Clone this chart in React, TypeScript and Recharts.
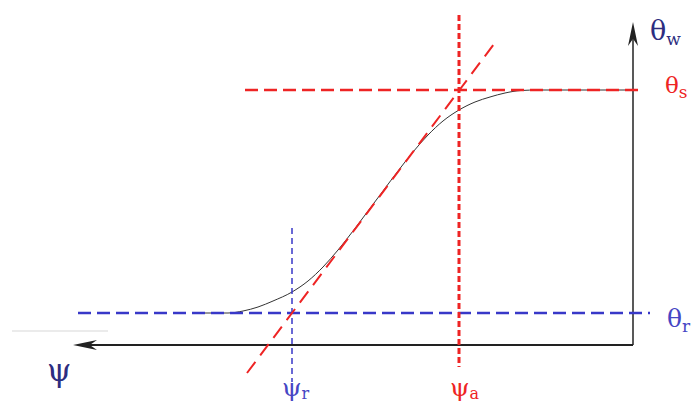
import React from 'react';
import {
  ComposedChart,
  Line,
  XAxis,
  YAxis,
  ReferenceLine,
  ReferenceDot,
} from 'recharts';

// retention curve, psi grows to the left, theta upward (arbitrary units)
const curvePsi = [44.0, 40.5, 39.0, 37.5, 36.0, 34.1, 32.5, 31.0, 29.5, 28.0, 26.5, 25.0, 23.5, 22.0, 20.5, 19.0, 17.4, 15.8, 14.3, 12.8, 11.2, 9.5, 0];
const curveTheta = [3.2, 3.2, 3.4, 3.8, 4.4, 5.3, 6.4, 7.8, 9.5, 11.4, 13.4, 15.4, 17.4, 19.3, 21.0, 22.4, 23.5, 24.3, 24.8, 25.2, 25.45, 25.5, 25.5];

const thetaR = 3.2;
const thetaS = 25.5;
const psiR = 34.1;
const psiA = 17.4;

// tangent through (psiR, thetaR) and (psiA, thetaS)
const tangentPsi = [38.6, 13.6];
const tangentTheta = [-2.8, 30.5];

const labelPsi = [58.6, 35.1, 18.3, -1.7, -3.2, -3.4];
const labelTheta = [-3.6, -5.1, -5.1, 30.5, 25.2, 1.8];
const labelMain = ['ψ', 'ψ', 'ψ', 'θ', 'θ', 'θ'];
const labelSub = ['', 'r', 'a', 'w', 's', 'r'];

const data = curvePsi.map((p, i) => ({ psi: p, theta: curveTheta[i] }));

const NAVY = '#2d2d80';
const BLUE = '#3838c8';
const RED = '#ee2424';

const labelStyle = [
  { color: NAVY, size: 31, sub: 0, dy: 0 },
  { color: '#4646c4', size: 25, sub: 16, dy: 3 },
  { color: RED, size: 25, sub: 16, dy: 3 },
  { color: NAVY, size: 27, sub: 17, dy: 5 },
  { color: RED, size: 23, sub: 17, dy: 5 },
  { color: '#4646c4', size: 25, sub: 17, dy: 5 },
];

const Arrow = (props: any) => {
  const { x1, y1, x2, y2, stroke, strokeWidth } = props;
  const dx = x2 - x1;
  const dy = y2 - y1;
  const len = Math.sqrt(dx * dx + dy * dy) || 1;
  const ux = dx / len;
  const uy = dy / len;
  const hl = 24;
  const hw = 5;
  const bx = x2 - ux * hl;
  const by = y2 - uy * hl;
  const pts = `${x2},${y2} ${bx - uy * hw},${by + ux * hw} ${x2 - ux * hl * 0.7},${y2 - uy * hl * 0.7} ${bx + uy * hw},${by - ux * hw}`;
  return (
    <g>
      <line x1={x1} y1={y1} x2={x2 - ux * 6} y2={y2 - uy * 6} stroke={stroke} strokeWidth={strokeWidth} />
      <polygon points={pts} fill={stroke} />
    </g>
  );
};

export default function App() {
  return (
    <div style={{ position: 'absolute', left: 0, top: 0, background: '#fff' }}>
      <ComposedChart
        width={691}
        height={404}
        data={data}
        margin={{ top: 0, right: 0, left: 0, bottom: 0 }}
      >
        <XAxis type="number" dataKey="psi" domain={[-5.8, 63.3]} reversed hide allowDataOverflow />
        <YAxis type="number" domain={[-5.9, 34.5]} hide allowDataOverflow />

        <ReferenceLine
          segment={[{ x: 62.1, y: 1.4 }, { x: 52.5, y: 1.4 }]}
          stroke="#e4e4e4"
          strokeWidth={1.5}
        />

        <Line
          type="monotone"
          dataKey="theta"
          stroke="#333"
          strokeWidth={1}
          dot={false}
          activeDot={false}
          isAnimationActive={false}
        />

        {/* axes */}
        <ReferenceLine
          segment={[{ x: 0, y: 0 }, { x: 56, y: 0 }]}
          stroke="#222"
          strokeWidth={1.8}
          shape={Arrow}
        />
        <ReferenceLine
          segment={[{ x: 0, y: 0 }, { x: 0, y: 32.3 }]}
          stroke="#222"
          strokeWidth={1.5}
          shape={Arrow}
        />

        {/* residual and saturated levels */}
        <ReferenceLine
          segment={[{ x: 55.5, y: thetaR }, { x: -1.7, y: thetaR }]}
          stroke={BLUE}
          strokeWidth={2.5}
          strokeDasharray="13 6"
        />
        <ReferenceLine
          segment={[{ x: psiR, y: 11.7 }, { x: psiR, y: -3.7 }]}
          stroke={BLUE}
          strokeWidth={1.5}
          strokeDasharray="6 4"
        />
        <ReferenceLine
          segment={[{ x: 38.8, y: thetaS }, { x: -0.9, y: thetaS }]}
          stroke={RED}
          strokeWidth={2.5}
          strokeDasharray="13 6"
        />
        <ReferenceLine
          segment={[{ x: psiA, y: 33.0 }, { x: psiA, y: -2.2 }]}
          stroke={RED}
          strokeWidth={3}
          strokeDasharray="6 3"
        />
        <ReferenceLine
          segment={[
            { x: tangentPsi[0], y: tangentTheta[0] },
            { x: tangentPsi[1], y: tangentTheta[1] },
          ]}
          stroke={RED}
          strokeWidth={2}
          strokeDasharray="14 8"
        />

        {labelMain.map((m, i) => (
          <ReferenceDot
            key={i}
            x={labelPsi[i]}
            y={labelTheta[i]}
            r={0}
            shape={(p: any) => (
              <text
                x={p.cx}
                y={p.cy}
                fill={labelStyle[i].color}
                fontSize={labelStyle[i].size}
                fontFamily="'DejaVu Serif', serif"
              >
                <tspan>{m}</tspan>
                {labelSub[i] && (
                  <tspan fontSize={labelStyle[i].sub} dy={labelStyle[i].dy}>
                    {labelSub[i]}
                  </tspan>
                )}
              </text>
            )}
          />
        ))}
      </ComposedChart>
    </div>
  );
}
